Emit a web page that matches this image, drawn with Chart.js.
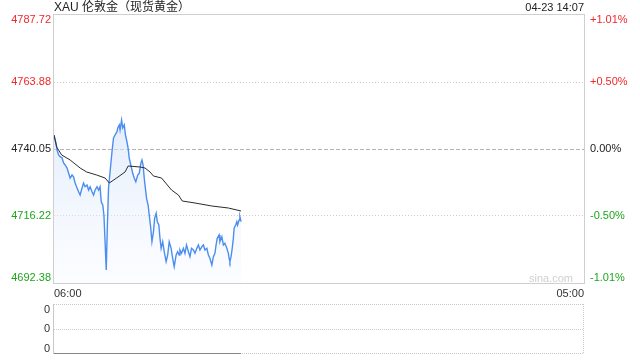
<!DOCTYPE html>
<html><head><meta charset="utf-8">
<script src="https://cdn.jsdelivr.net/npm/chart.js@4.4.1/dist/chart.umd.min.js"></script>
<style>
html,body{margin:0;padding:0;background:#fff;width:640px;height:360px;overflow:hidden}
#title{position:absolute;left:54px;top:0px;font:12px "Liberation Sans","Noto Sans CJK SC",sans-serif;color:#222;line-height:15px;white-space:nowrap}
#time{position:absolute;right:56px;top:1px;font:11px "Liberation Sans",sans-serif;color:#222;line-height:13px}
#sina{position:absolute;right:67px;top:272px;font:11px "Liberation Sans",sans-serif;color:#d0d0d0;line-height:13px}
#main{position:absolute;left:0;top:0}
#vol{position:absolute;left:0;top:300px}
</style></head>
<body>
<canvas id="main" width="640" height="300"></canvas>
<canvas id="vol" width="640" height="60"></canvas>
<div id="title">XAU 伦敦金（现货黄金）</div>
<div id="time">04-23 14:07</div>
<div id="sina">sina.com</div>
<script>
// ---- data ----
const prevClose = 4740.05;
const xMin = 0, xMax = 1380; // minutes since 06:00
const xTickValues = [0, 1380];
const xTickLabels = ['06:00', '05:00'];
const yTickValues = [4692.38, 4716.22, 4740.05, 4763.88, 4787.72];
const yTickLabels = ['4692.38', '4716.22', '4740.05', '4763.88', '4787.72'];
const pctTickLabels = ['-1.01%', '-0.50%', '0.00%', '+0.50%', '+1.01%'];
const times = [0,5,8,12,16,21,25,29,34,38,42,47,51,55,60,64,68,73,77,81,86,90,94,99,103,107,112,116,120,123,127,130,133,136,139,142,146,151,155,159,164,166,170,172,176,179,183,186,189,193,196,200,205,209,213,218,222,226,229,232,235,238,241,245,248,252,255,259,262,266,269,273,276,279,283,287,292,296,300,305,309,313,318,322,326,328,332,337,341,345,350,354,358,363,367,372,376,380,385,389,393,398,402,406,411,415,419,422,425,430,432,437,441,445,450,454,456,458,461,464,467,469,473,476,478,482,484,487];
const prices = [4745.03,4742.18,4739.69,4737.91,4737.31,4736.85,4735.07,4734.36,4733.29,4731.51,
4729.73,4730.80,4730.19,4727.95,4726.18,4724.86,4723.68,4726.18,4727.95,4726.64,
4727.24,4725.46,4726.64,4724.86,4723.68,4725.46,4726.64,4725.46,4726.64,4721.30,
4720.13,4716.57,4707.07,4697.00,4713.01,4726.18,4731.97,4739.09,4743.96,4745.03,
4746.20,4747.52,4748.59,4746.81,4750.37,4747.52,4748.59,4745.03,4743.25,4740.30,
4736.74,4734.36,4731.40,4729.63,4728.42,4730.80,4731.40,4734.96,4736.14,4734.36,
4729.63,4726.07,4722.51,4720.13,4716.57,4711.84,4707.07,4710.63,4715.39,4717.17,
4714.19,4713.01,4708.28,4704.72,4707.07,4703.51,4699.96,4702.34,4707.07,4704.72,
4701.17,4698.18,4702.34,4703.51,4702.34,4704.12,4702.95,4704.72,4702.95,4705.90,
4703.51,4701.74,4704.72,4704.12,4702.95,4704.72,4705.90,4704.12,4705.29,4705.90,
4704.12,4704.72,4702.34,4701.17,4698.78,4701.74,4702.95,4705.90,4708.28,4709.45,
4707.07,4708.85,4705.90,4706.50,4704.72,4702.95,4701.17,4699.96,4701.74,4704.72,
4708.28,4711.84,4713.01,4714.19,4713.01,4714.79,4715.97,4714.19];
const avgTimes = [0,7,20,42,68,85,111,133,144,163,185,193,224,237,250,259,280,306,324,334,367,411,454,487];
const avgPrices = [4745.03,4740.76,4737.91,4736.14,4733.29,4731.87,4730.80,4729.73,4727.95,4729.73,4731.87,4734.00,4733.65,4733.29,4731.87,4730.44,4729.73,4725.46,4723.68,4721.55,4720.84,4719.77,4719.06,4717.99];
const volTimes = [0, 487];
const volValues = [0, 0];
const volTickValues = [0, 0.5, 1];
const volTickLabels = ['0', '0', '0'];

Chart.defaults.font.family = '"Liberation Sans", Arial, sans-serif';
Chart.defaults.font.size = 11;

function tickColor(v){ return v > prevClose ? '#f02828' : (v < prevClose ? '#1ea51e' : '#222'); }

const labelPlugin = {
  id: 'labels',
  afterDraw(chart) {
    const ctx = chart.ctx, a = chart.chartArea;
    ctx.save();
    ctx.strokeStyle = '#cfcfcf'; ctx.lineWidth = 1; ctx.setLineDash([]);
    ctx.strokeRect(a.left - 0.5, a.top - 0.5, a.right - a.left + 1, a.bottom - a.top + 1);
    ctx.font = '11px "Liberation Sans", Arial, sans-serif';
    ctx.textBaseline = 'middle';
    const ys = chart.scales.y;
    yTickValues.forEach((v, i) => {
      let py = ys.getPixelForValue(v);
      if (i === 0) py -= 5;
      if (i === yTickValues.length - 1) py += 5;
      ctx.fillStyle = tickColor(v);
      ctx.textAlign = 'right';
      ctx.fillText(yTickLabels[i], a.left - 3, py);
      ctx.textAlign = 'left';
      ctx.fillText(pctTickLabels[i], a.right + 6, py);
    });
    ctx.restore();
  }
};

new Chart(document.getElementById('main').getContext('2d'), {
  type: 'line',
  data: {
    datasets: [
      {
        label: 'avg',
        data: avgTimes.map((t, i) => ({x: t, y: avgPrices[i]})),
        borderColor: '#2b2b2b', borderWidth: 1, pointRadius: 0, fill: false, tension: 0
      },
      {
        label: 'price',
        data: times.map((t, i) => ({x: t, y: prices[i]})),
        borderColor: '#4b8ef0', borderWidth: 1.4, pointRadius: 0, tension: 0,
        fill: 'start',
        backgroundColor: (c) => {
          const a = c.chart.chartArea;
          if (!a) return 'rgba(200,220,250,0.5)';
          const g = c.chart.ctx.createLinearGradient(0, a.top, 0, a.bottom);
          g.addColorStop(0, 'rgba(190,213,248,0.75)');
          g.addColorStop(0.5, 'rgba(215,229,251,0.55)');
          g.addColorStop(1, 'rgba(245,248,255,0.35)');
          return g;
        }
      }
    ]
  },
  options: {
    responsive: false, animation: false, devicePixelRatio: 1,
    layout: {padding: {top: 15, left: 0, right: 0, bottom: 0}},
    plugins: {legend: {display: false}, tooltip: {enabled: false}},
    scales: {
      x: {
        type: 'linear', min: xMin, max: xMax,
        afterBuildTicks: (s) => { s.ticks = xTickValues.map(v => ({value: v})); },
        afterFit: (s) => { s.height = 17; },
        ticks: {align: 'inner', padding: 4, color: '#333', maxRotation: 0, autoSkip: false,
                callback: (v, i) => xTickLabels[i]},
        grid: {display: false, drawTicks: false},
        border: {display: false}
      },
      y: {
        position: 'left', min: yTickValues[0], max: yTickValues[yTickValues.length - 1],
        afterBuildTicks: (s) => { s.ticks = yTickValues.map(v => ({value: v})); },
        afterFit: (s) => { s.width = 54; },
        ticks: {display: false},
        grid: {
          drawTicks: false, lineWidth: 1,
          color: (c) => {
            const v = c.tick.value;
            if (c.index === 0 || c.index === yTickValues.length - 1) return 'rgba(0,0,0,0)';
            return v === prevClose ? '#b4b4b4' : '#cccccc';
          }
        },
        border: {display: false, dash: (c) => (c.tick && c.tick.value === prevClose) ? [4, 2] : [1, 2]}
      },
      y2: {
        position: 'right', min: yTickValues[0], max: yTickValues[yTickValues.length - 1],
        afterFit: (s) => { s.width = 56; },
        ticks: {display: false}, grid: {display: false}, border: {display: false}
      }
    }
  },
  plugins: [labelPlugin]
});

const volPlugin = {
  id: 'volframe',
  beforeDatasetsDraw(chart) {
    const ctx = chart.ctx, a = chart.chartArea, ys = chart.scales.y;
    ctx.save();
    ctx.lineWidth = 1;
    ctx.strokeStyle = '#c8c8c8';
    ctx.setLineDash([1, 1]);
    ctx.beginPath();
    ctx.moveTo(a.left, a.top + 0.5); ctx.lineTo(a.right, a.top + 0.5);
    ctx.moveTo(a.right - 0.5, a.top); ctx.lineTo(a.right - 0.5, a.bottom);
    ctx.moveTo(a.left, a.bottom - 0.5); ctx.lineTo(a.right, a.bottom - 0.5);
    ctx.stroke();
    ctx.setLineDash([]);
    ctx.beginPath();
    ctx.moveTo(a.left - 0.5, a.top); ctx.lineTo(a.left - 0.5, a.bottom);
    ctx.stroke();
    ctx.font = '11px "Liberation Sans", Arial, sans-serif';
    ctx.textBaseline = 'middle'; ctx.textAlign = 'right'; ctx.fillStyle = '#333';
    volTickValues.forEach((v, i) => {
      let py = ys.getPixelForValue(v);
      if (i === 0) py -= 5;
      if (i === volTickValues.length - 1) py += 6;
      ctx.fillText(volTickLabels[i], a.left - 4, py);
    });
    ctx.restore();
  }
};

new Chart(document.getElementById('vol').getContext('2d'), {
  type: 'line',
  data: {datasets: [{
    label: 'vol', data: volTimes.map((t, i) => ({x: t, y: volValues[i]})),
    borderColor: '#666', borderWidth: 1.5, pointRadius: 0, fill: false
  }]},
  options: {
    responsive: false, animation: false, devicePixelRatio: 1,
    layout: {padding: {top: 4, bottom: 6, left: 0, right: 0}},
    plugins: {legend: {display: false}, tooltip: {enabled: false}},
    scales: {
      x: {type: 'linear', min: xMin, max: xMax, display: false},
      y: {
        position: 'left', min: volTickValues[0], max: volTickValues[volTickValues.length - 1],
        afterBuildTicks: (s) => { s.ticks = volTickValues.map(v => ({value: v})); },
        afterFit: (s) => { s.width = 54; },
        ticks: {display: false},
        grid: {drawTicks: false, color: (c) => c.index === 1 ? '#cccccc' : 'rgba(0,0,0,0)'},
        border: {display: false, dash: [1, 1]}
      },
      y2: {position: 'right', afterFit: (s) => { s.width = 56; }, ticks: {display: false}, grid: {display: false}, border: {display: false}}
    }
  },
  plugins: [volPlugin]
});
</script>
</body></html>
